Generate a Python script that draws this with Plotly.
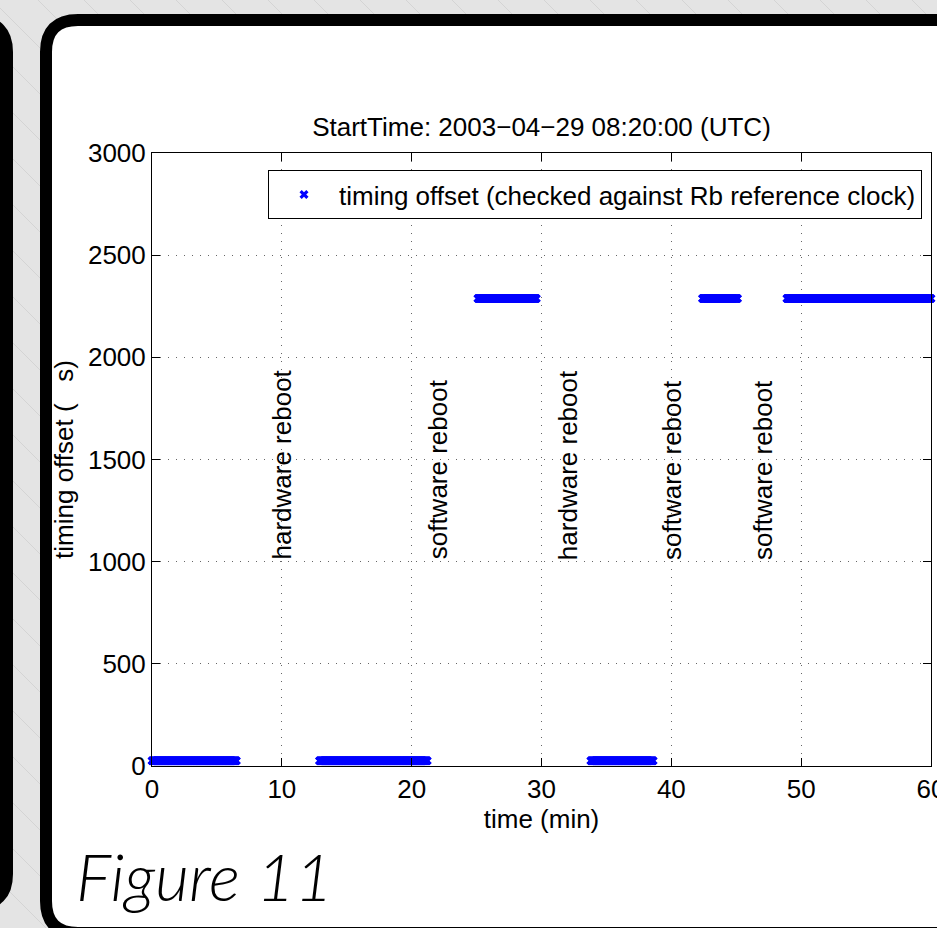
import numpy as np
import plotly.graph_objects as go

# ---- data -------------------------------------------------------------
# contiguous logging runs: start / end time (min) and measured offset (us)
seg_start_min = [0.0, 12.9, 25.1, 33.8, 42.4, 48.9]
seg_end_min = [6.5, 21.2, 29.6, 38.6, 45.1, 60.0]
seg_offset_us = [26, 26, 2288, 26, 2288, 2288]
sample_step_s = 2  # logging cadence

# reboot events marked on the time axis
reboot_min = [10, 22, 32, 40, 47]
reboot_label = ["hardware reboot", "software reboot", "hardware reboot",
                "software reboot", "software reboot"]
reboot_label_y = 1000

x_ticks = [0, 10, 20, 30, 40, 50, 60]
y_ticks = [0, 500, 1000, 1500, 2000, 2500, 3000]

series_name = "timing offset (checked against Rb reference clock)"
title_text = "StartTime: 2003\u221204\u221229 08:20:00 (UTC)"
x_title = "time (min)"
y_title = "timing offset (\u00a0\u00a0\u00a0s)"
caption = "Figure 11"

# ---- page geometry (pixels) -------------------------------------------
W, H = 937, 928
ML, MR, MT, MB = 152, 6, 153, 162
PW = W - ML - MR
PH = H - MT - MB


def fx(px):
    return (px - ML) / PW


def fy(py):
    return (H - MB - py) / PH


def rounded_rect(l, t, r, b, rad):
    pts = [
        ("M", [(l + rad, t)]),
        ("L", [(r - rad, t)]),
        ("Q", [(r, t), (r, t + rad)]),
        ("L", [(r, b - rad)]),
        ("Q", [(r, b), (r - rad, b)]),
        ("L", [(l + rad, b)]),
        ("Q", [(l, b), (l, b - rad)]),
        ("L", [(l, t + rad)]),
        ("Q", [(l, t), (l + rad, t)]),
    ]
    s = ""
    for cmd, coords in pts:
        s += cmd + " ".join(f"{fx(x):.5f},{fy(y):.5f}" for x, y in coords) + " "
    return s + "Z"


# ---- samples ----------------------------------------------------------
t, v = [], []
for a, b, off in zip(seg_start_min, seg_end_min, seg_offset_us):
    n = int(round((b - a) * 60 / sample_step_s)) + 1
    t.extend(np.linspace(a, b, n))
    v.extend([off] * n)

FONT = "Liberation Sans, Arial, sans-serif"

fig = go.Figure()
fig.add_trace(go.Scatter(
    x=t, y=v, mode="markers", name=series_name, cliponaxis=False,
    marker=dict(symbol="x", size=8, color="#0000ff", line=dict(width=0)),
))

# ---- decorative page background --------------------------------------
diag = ""
for c in range(-H, W + H, 46):
    diag += f"M{fx(c):.5f},{fy(0):.5f} L{fx(c + H):.5f},{fy(H):.5f} "

shapes = [
    dict(type="path", xref="paper", yref="paper", path=diag,
         line=dict(color="#d4d4d4", width=1), layer="below"),
    dict(type="path", xref="paper", yref="paper",
         path=rounded_rect(-300, 22, 6.5, 904, 30),
         fillcolor="white", line=dict(color="black", width=13), layer="below"),
    dict(type="path", xref="paper", yref="paper",
         path=rounded_rect(46, 20, 1010, 933, 32),
         fillcolor="white", line=dict(color="black", width=12), layer="below"),
]

annotations = []
for xm, lab in zip(reboot_min, reboot_label):
    annotations.append(dict(
        x=xm, y=reboot_label_y, xref="x", yref="y", text=lab, textangle=-90,
        xanchor="center", yanchor="bottom", showarrow=False,
        font=dict(family=FONT, size=26, color="black"),
    ))
annotations.append(dict(
    x=fx(74), y=fy(876), xref="paper", yref="paper", text=caption,
    xanchor="left", yanchor="middle", showarrow=False,
    font=dict(family="Lato, sans-serif", size=66, color="black",
              style="italic", weight=300),
))

axis_common = dict(
    ticks="inside", ticklen=8, tickwidth=1, tickcolor="black",
    showline=True, linecolor="black", linewidth=1, mirror="ticks",
    showgrid=True, gridcolor="#666666", gridwidth=1, griddash="1px,7px",
    zeroline=False, ticklabeloverflow="allow",
    tickfont=dict(family=FONT, size=26, color="black"),
)

fig.update_layout(
    width=W, height=H,
    margin=dict(l=ML, r=MR, t=MT, b=MB, autoexpand=False),
    paper_bgcolor="#e4e4e4", plot_bgcolor="white",
    title=dict(text=title_text, x=0.5, xref="paper", xanchor="center",
               y=1 - 127 / H, yref="container", yanchor="middle",
               font=dict(family=FONT, size=26, color="black")),
    xaxis=dict(range=[0, 60], tickvals=x_ticks,
               title=dict(text=x_title, standoff=4,
                          font=dict(family=FONT, size=26, color="black")),
               **axis_common),
    yaxis=dict(range=[0, 3000], tickvals=y_ticks,
               title=dict(text=y_title, standoff=6,
                          font=dict(family=FONT, size=26, color="black")),
               **axis_common),
    legend=dict(x=fx(922), xanchor="right", y=fy(170), yanchor="top",
                bgcolor="white", bordercolor="black", borderwidth=1,
                font=dict(family=FONT, size=26, color="black"),
                itemwidth=60, tracegroupgap=0),
    showlegend=True,
    shapes=shapes,
    annotations=annotations,
)

fig.write_html("out.html")
